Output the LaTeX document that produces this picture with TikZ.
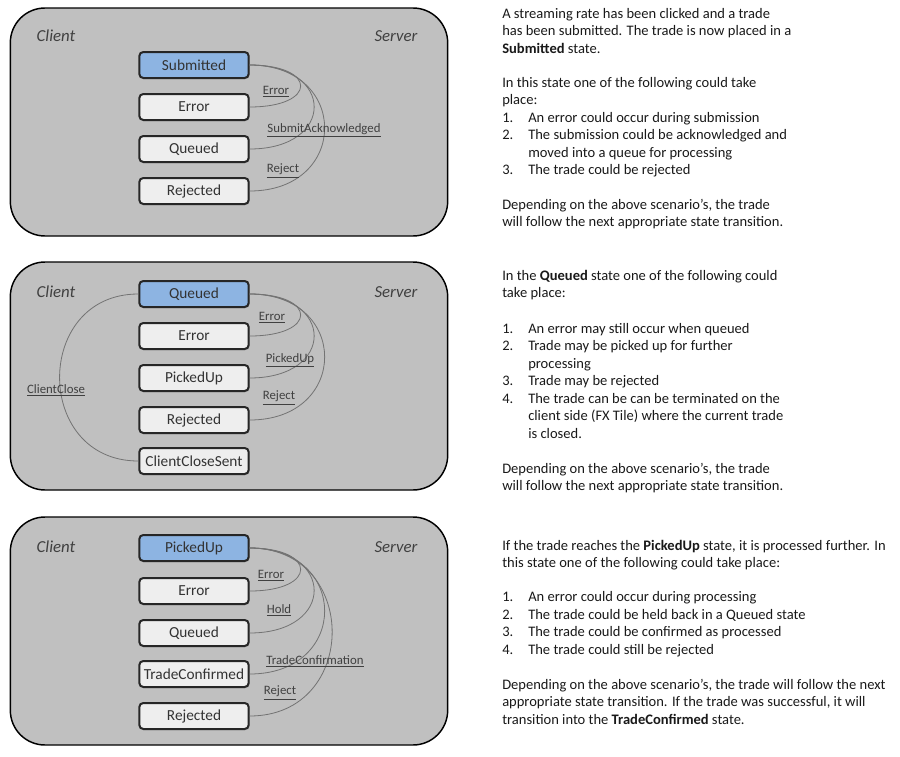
\documentclass[tikz,border=0pt]{standalone}
\usepackage{fontspec}
\setmainfont{Carlito}
\usetikzlibrary{shadows}
\definecolor{panel}{HTML}{C0C0C0}
\definecolor{stfill}{HTML}{EEEEEE}
\definecolor{stblue}{HTML}{8DB4E2}
\definecolor{lab}{HTML}{404040}
\begin{document}
\begin{tikzpicture}[x=0.75pt,y=-0.75pt,
  panelbox/.style={draw=black,line width=1.1pt,fill=panel,rounded corners=26pt},
  st/.style={draw=black!85,line width=1.5pt,fill=stfill,rounded corners=3pt,minimum width=82pt,minimum height=19.5pt,inner sep=1pt,font=\fontsize{11.5}{13}\selectfont,text=black!80,drop shadow={shadow xshift=0.8pt,shadow yshift=-0.8pt,opacity=0.4}},
  cur/.style={st,fill=stblue},
  side/.style={font=\fontsize{12.6}{14}\selectfont\itshape,text=lab},
  lbl/.style={font=\fontsize{9.6}{11}\selectfont,text=lab,inner sep=0pt},
  tr/.style={draw=black!55,line width=0.6pt},
  txt/.style={anchor=west,inner sep=0pt,text height=7.6pt,text depth=2.4pt,font=\fontsize{10.9}{13}\selectfont,text=black!90}]
\useasboundingbox (0,0) rectangle (900,757);
% ---------- panel 1
\node[panelbox,minimum width=328pt,minimum height=171pt] (p1) at (229,122) {};
\node[side] (c1) at (56,36) {Client};
\node[side] (s1) at (396,36) {Server};
\node[cur] (a1) at (194,65) {Submitted};
\node[st] (a2) at (194,107) {Error};
\node[st] (a3) at (194,149) {Queued};
\node[st] (a4) at (194,191) {Rejected};
\draw[tr] (a1.east) .. controls +(68,0) and +(68,0) .. (a2.east);
\draw[tr] (a1.east) .. controls +(86,0) and +(86,0) .. (a3.east);
\draw[tr] (a1.east) .. controls +(100,0) and +(100,0) .. (a4.east);
\node[lbl] (l11) at (276,92) {\underline{Error}};
\node[lbl] (l12) at (324,130) {\underline{SubmitAcknowledged}};
\node[lbl] (l13) at (283,171) {\underline{Reject}};
% ---------- panel 2
\node[panelbox,minimum width=328pt,minimum height=171pt] (p2) at (229,376) {};
\node[side] (c2) at (56,292) {Client};
\node[side] (s2) at (396,292) {Server};
\node[cur] (b1) at (194,294) {Queued};
\node[st] (b2) at (194,336) {Error};
\node[st] (b3) at (194,378) {PickedUp};
\node[st] (b4) at (194,420) {Rejected};
\node[st] (b5) at (194,461) {ClientCloseSent};
\draw[tr] (b1.east) .. controls +(68,0) and +(68,0) .. (b2.east);
\draw[tr] (b1.east) .. controls +(86,0) and +(86,0) .. (b3.east);
\draw[tr] (b1.east) .. controls +(100,0) and +(100,0) .. (b4.east);
\draw[tr] (b1.west) .. controls +(-105,0) and +(-105,0) .. (b5.west);
\node[lbl] (l21) at (272,318) {\underline{Error}};
\node[lbl] (l22) at (290,360) {\underline{PickedUp}};
\node[lbl] (l23) at (279,398) {\underline{Reject}};
\node[lbl] (l24) at (56,390) {\underline{ClientClose}};
% ---------- panel 3
\node[panelbox,minimum width=328pt,minimum height=171pt] (p3) at (229,631) {};
\node[side] (c3) at (56,547) {Client};
\node[side] (s3) at (396,547) {Server};
\node[cur] (d1) at (194,548) {PickedUp};
\node[st] (d2) at (194,591) {Error};
\node[st] (d3) at (194,633) {Queued};
\node[st] (d4) at (194,674) {TradeConfirmed};
\node[st] (d5) at (194,716) {Rejected};
\draw[tr] (d1.east) .. controls +(68,0) and +(68,0) .. (d2.east);
\draw[tr] (d1.east) .. controls +(86,0) and +(86,0) .. (d3.east);
\draw[tr] (d1.east) .. controls +(100,0) and +(100,0) .. (d4.east);
\draw[tr] (d1.east) .. controls +(110,0) and +(110,0) .. (d5.east);
\node[lbl] (l31) at (271,576) {\underline{Error}};
\node[lbl] (l32) at (279,610) {\underline{Hold}};
\node[lbl] (l33) at (315,661) {\underline{TradeConfirmation}};
\node[lbl] (l34) at (280,693) {\underline{Reject}};
% ---------- texts 1
\node[txt] (t1) at (502,15) {A streaming rate has been clicked and a trade};
\node[txt] (t2) at (502,32) {has been submitted. The trade is now placed in a};
\node[txt] (t3) at (502,50) {\textbf{Submitted} state.};
\node[txt] (t4) at (502,84) {In this state one of the following could take};
\node[txt] (t5) at (502,101) {place:};
\node[txt] (t6) at (502,119) {1.};\node[txt] (t6b) at (528,119) {An error could occur during submission};
\node[txt] (t7) at (502,136) {2.};\node[txt] (t7b) at (528,136) {The submission could be acknowledged and};
\node[txt] (t8) at (528,154) {moved into a queue for processing};
\node[txt] (t9) at (502,171) {3.};\node[txt] (t9b) at (528,171) {The trade could be rejected};
\node[txt] (t10) at (502,206) {Depending on the above scenario’s, the trade};
\node[txt] (t11) at (502,223) {will follow the next appropriate state transition.};
% ---------- texts 2
\node[txt] (u1) at (502,277) {In the \textbf{Queued} state one of the following could};
\node[txt] (u2) at (502,294) {take place:};
\node[txt] (u3) at (502,330) {1.};\node[txt] (u3b) at (528,330) {An error may still occur when queued};
\node[txt] (u4) at (502,347) {2.};\node[txt] (u4b) at (528,347) {Trade may be picked up for further};
\node[txt] (u5) at (528,365) {processing};
\node[txt] (u6) at (502,382) {3.};\node[txt] (u6b) at (528,382) {Trade may be rejected};
\node[txt] (u7) at (502,400) {4.};\node[txt] (u7b) at (528,400) {The trade can be can be terminated on the};
\node[txt] (u8) at (528,417) {client side (FX Tile) where the current trade};
\node[txt] (u9) at (528,435) {is closed.};
\node[txt] (u10) at (502,470) {Depending on the above scenario’s, the trade};
\node[txt] (u11) at (502,487) {will follow the next appropriate state transition.};
% ---------- texts 3
\node[txt] (v1) at (502,547) {If the trade reaches the \textbf{PickedUp} state, it is processed further. In};
\node[txt] (v2) at (502,564) {this state one of the following could take place:};
\node[txt] (v3) at (502,598) {1.};\node[txt] (v3b) at (528,598) {An error could occur during processing};
\node[txt] (v4) at (502,616) {2.};\node[txt] (v4b) at (528,616) {The trade could be held back in a Queued state};
\node[txt] (v5) at (502,633) {3.};\node[txt] (v5b) at (528,633) {The trade could be confirmed as processed};
\node[txt] (v6) at (502,651) {4.};\node[txt] (v6b) at (528,651) {The trade could still be rejected};
\node[txt] (v7) at (502,686) {Depending on the above scenario’s, the trade will follow the next};
\node[txt] (v8) at (502,703) {appropriate state transition. If the trade was successful, it will};
\node[txt] (v9) at (502,721) {transition into the \textbf{TradeConfirmed} state.};
\end{tikzpicture}
\end{document}
